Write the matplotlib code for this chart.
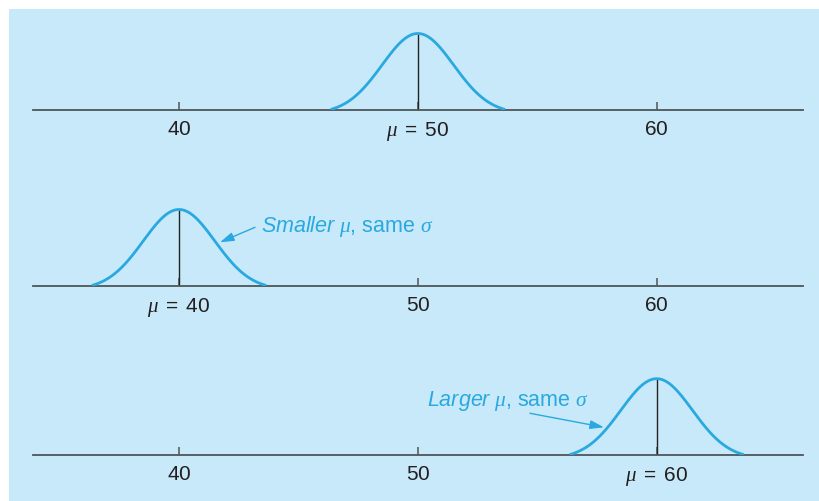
import matplotlib
matplotlib.use("Agg")
import matplotlib.pyplot as plt
import numpy as np
from matplotlib.patches import Rectangle, FancyArrowPatch

plt.rcParams['font.family'] = ['Liberation Sans', 'DejaVu Sans']
plt.rcParams['mathtext.fontset'] = 'custom'
plt.rcParams['mathtext.rm'] = 'Liberation Sans'
plt.rcParams['mathtext.it'] = 'Liberation Serif:italic'
plt.rcParams['mathtext.sf'] = 'Liberation Sans:italic'

# data
means = [50, 40, 60]
sigma = 1.5
half_span = 3.65          # curve drawn over mean +/- this
tick_values = [40, 50, 60]
tick_labels = [
    ['$40$', r'$\mu\ =\ 50$', '$60$'],
    [r'$\mu\ =\ 40$', '$50$', '$60$'],
    ['$40$', '$50$', r'$\mu\ =\ 60$'],
]
notes = [None, r'$\mathsf{Smaller}\ \mu$, same $\sigma$', r'$\mathsf{Larger}\ \mu$, same $\sigma$']

# style
bg = '#c8e9f9'
curve_c = '#29a9e0'
axis_c = '#4f5558'
text_c = '#231f20'

W, H = 819, 502
fig = plt.figure(figsize=(W / 100, H / 100), dpi=100)
fig.patch.set_facecolor('white')
fig.patches.append(Rectangle((9 / W, 0), 1 - 9 / W, 1 - 10 / H, transform=fig.transFigure,
                             facecolor=bg, edgecolor='none', zorder=-10))

axis_y = [110.5, 286.5, 455.7]   # pixel rows of the axis lines
peak_px = 76
ax_h = 90
x0, x1 = 33, 803.3
xlim = (33.886, 66.14)

edge = np.exp(-0.5 * (half_span / sigma) ** 2)

for i, mu in enumerate(means):
    ax = fig.add_axes([x0 / W, 1 - axis_y[i] / H, (x1 - x0) / W, ax_h / H])
    ax.set_zorder(1)
    ax.patch.set_visible(False)
    x = np.linspace(mu - half_span, mu + half_span, 300)
    y = np.exp(-0.5 * ((x - mu) / sigma) ** 2)
    ax.plot(x, y, color=curve_c, lw=2, solid_capstyle='butt', zorder=3)
    ax.vlines(mu, edge, 1, color='#222222', lw=1, zorder=2)
    ax.set_xlim(*xlim)
    ax.set_ylim(edge, edge + (1 - edge) * ax_h / peak_px)
    for s in ['left', 'right', 'top']:
        ax.spines[s].set_visible(False)
    ax.spines['bottom'].set_color(axis_c)
    ax.spines['bottom'].set_linewidth(1.3)
    ax.set_yticks([])
    ax.set_xticks(tick_values)
    ax.set_xticklabels(tick_labels[i])
    ax.tick_params(axis='x', direction='in', length=6, width=1.1, color=axis_c,
                   labelsize=15, labelcolor=text_c, pad=6.8)

# annotations (figure pixel coordinates)
arrow = dict(arrowstyle='-|>,head_length=0.7,head_width=0.22', color=curve_c, lw=1,
             shrinkA=0, shrinkB=0, mutation_scale=12, zorder=5)
fig.text(261 / W, (H - 232) / H, notes[1], color=curve_c, fontsize=15.5, va='baseline', zorder=5)
fig.add_artist(FancyArrowPatch((255, H - 228.3), (220, H - 243.3), transform=None, **arrow))
fig.text(427 / W, (H - 406) / H, notes[2], color=curve_c, fontsize=15.5, va='baseline', zorder=5)
fig.add_artist(FancyArrowPatch((530, H - 414.3), (604, H - 428.3), transform=None, **arrow))

fig.savefig('out.png', dpi=100, facecolor=fig.get_facecolor())
